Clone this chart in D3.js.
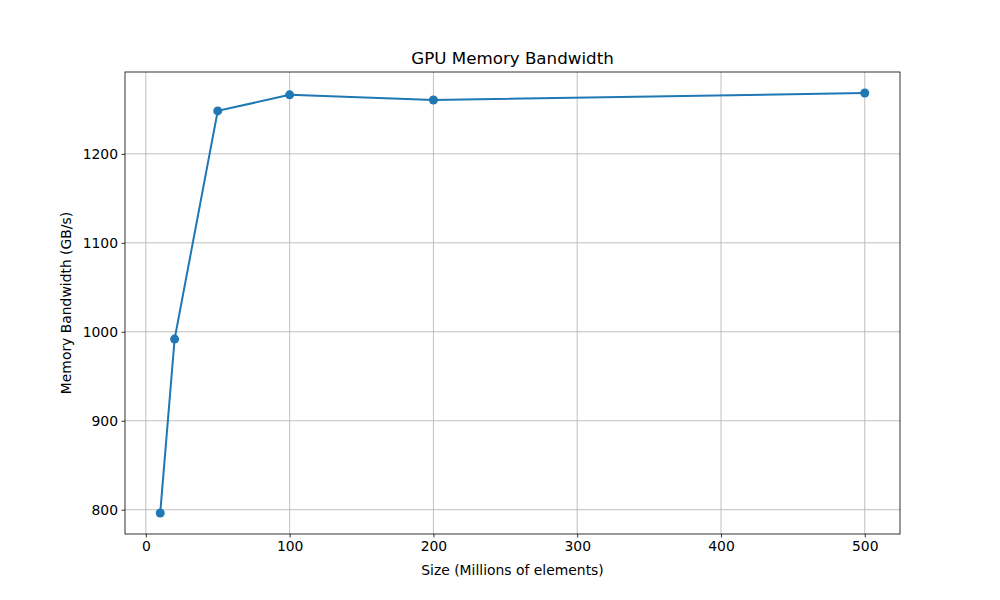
<!DOCTYPE html>
<html>
<head>
<meta charset="utf-8">
<script src="https://cdn.jsdelivr.net/npm/d3@7"></script>
<style>
  body { margin: 0; background: #fff; }
  text { font-family: "DejaVu Sans", sans-serif; }
</style>
</head>
<body>
<script>
var sizes = [10, 20, 50, 100, 200, 500];
var bandwidth = [796.3, 991.8, 1248.3, 1266.3, 1260.5, 1268.4];
var xTicks = [0, 100, 200, 300, 400, 500];
var yTicks = [800, 900, 1000, 1100, 1200];

var width = 1000, height = 600;
var m = {left: 125, right: 900, top: 72, bottom: 534};

var svg = d3.select("body").append("svg")
    .attr("width", width)
    .attr("height", height);

var xPad = (d3.max(sizes) - d3.min(sizes)) * 0.05;
var yPad = (d3.max(bandwidth) - d3.min(bandwidth)) * 0.05;

var x = d3.scaleLinear()
    .domain([d3.min(sizes) - xPad, d3.max(sizes) + xPad])
    .range([m.left, m.right]);

var y = d3.scaleLinear()
    .domain([d3.min(bandwidth) - yPad, d3.max(bandwidth) + yPad])
    .range([m.bottom, m.top]);

// grid
svg.append("g").selectAll("line")
    .data(xTicks)
  .enter().append("line")
    .attr("x1", function(d){ return x(d); })
    .attr("x2", function(d){ return x(d); })
    .attr("y1", m.top).attr("y2", m.bottom)
    .attr("stroke", "#b0b0b0").attr("stroke-width", 0.8);

svg.append("g").selectAll("line")
    .data(yTicks)
  .enter().append("line")
    .attr("y1", function(d){ return y(d); })
    .attr("y2", function(d){ return y(d); })
    .attr("x1", m.left).attr("x2", m.right)
    .attr("stroke", "#b0b0b0").attr("stroke-width", 0.8);

// axes
var xAxis = svg.append("g")
    .attr("transform", "translate(0," + m.bottom + ")")
    .call(d3.axisBottom(x).tickValues(xTicks).tickFormat(d3.format("d")).tickSize(3.5).tickPadding(3.5));
var yAxis = svg.append("g")
    .attr("transform", "translate(" + m.left + ",0)")
    .call(d3.axisLeft(y).tickValues(yTicks).tickFormat(d3.format("d")).tickSize(3.5).tickPadding(3.5));

[xAxis, yAxis].forEach(function(a){
  a.select(".domain").remove();
  a.selectAll("line").attr("stroke", "#000").attr("stroke-width", 0.8);
  a.selectAll("text").attr("font-size", "13.9px").attr("fill", "#000")
      .style("font-family", "DejaVu Sans, sans-serif");
});

svg.append("rect")
    .attr("x", m.left).attr("y", m.top)
    .attr("width", m.right - m.left).attr("height", m.bottom - m.top)
    .attr("fill", "none").attr("stroke", "#000").attr("stroke-width", 0.8);

// line + markers
var line = d3.line()
    .x(function(d, i){ return x(sizes[i]); })
    .y(function(d){ return y(d); });

svg.append("path")
    .datum(bandwidth)
    .attr("d", line)
    .attr("fill", "none")
    .attr("stroke", "#1f77b4")
    .attr("stroke-width", 2);

svg.append("g").selectAll("circle")
    .data(bandwidth)
  .enter().append("circle")
    .attr("cx", function(d, i){ return x(sizes[i]); })
    .attr("cy", function(d){ return y(d); })
    .attr("r", 4.5)
    .attr("fill", "#1f77b4");

// labels
svg.append("text")
    .attr("x", (m.left + m.right) / 2).attr("y", 64)
    .attr("text-anchor", "middle")
    .attr("font-size", "16.7px")
    .text("GPU Memory Bandwidth");

svg.append("text")
    .attr("x", (m.left + m.right) / 2).attr("y", 575)
    .attr("text-anchor", "middle")
    .attr("font-size", "13.9px")
    .text("Size (Millions of elements)");

svg.append("text")
    .attr("transform", "translate(71," + ((m.top + m.bottom) / 2) + ")rotate(-90)")
    .attr("text-anchor", "middle")
    .attr("font-size", "13.9px")
    .text("Memory Bandwidth (GB/s)");
</script>
</body>
</html>
